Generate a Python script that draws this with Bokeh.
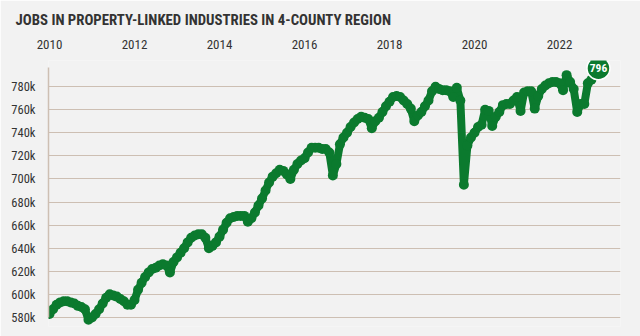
from bokeh.plotting import figure
from bokeh.models import ColumnDataSource, FixedTicker
from bokeh.core.properties import value
from bokeh.embed import file_html
from bokeh.resources import INLINE

title_text = "JOBS IN PROPERTY-LINKED INDUSTRIES IN 4-COUNTY REGION"
start_year = 2010
# monthly jobs (thousands), starting Jan 2010
jobs_k = [
    583, 587, 591, 593, 594, 594, 593, 592, 590, 589, 587, 578,
    580, 583, 587, 592, 597, 600, 599, 598, 596, 594, 591, 591,
    595, 604, 610, 615, 619, 622, 623, 625, 626, 625, 619, 628,
    632, 636, 640, 645, 649, 651, 652, 652, 649, 640, 642, 645,
    650, 656, 662, 666, 667, 668, 668, 668, 663, 666, 671, 677,
    683, 690, 697, 702, 705, 708, 707, 704, 700, 708, 713, 716,
    718, 723, 727, 727, 727, 726, 726, 723, 703, 713, 730, 736,
    740, 745, 749, 752, 754, 753, 752, 744, 750, 753, 758, 763,
    767, 771, 772, 771, 768, 765, 761, 750, 755, 758, 763, 768,
    776, 780, 778, 777, 777, 776, 771, 779, 768, 695, 729, 736,
    740, 745, 747, 760, 759, 746, 754, 758, 764, 765, 765, 768,
    771, 759, 775, 776, 776, 761, 772, 778, 781, 783, 784, 784,
    783, 777, 790, 784, 778, 758, 765, 765, 783, 786,
]
y_ticks = [580, 600, 620, 640, 660, 680, 700, 720, 740, 760, 780]
y_tick_labels = {v: f"{v}k" for v in y_ticks}
x_ticks = [2010, 2012, 2014, 2016, 2018, 2020, 2022]
end_label_value = 796
end_label_text = "796"

t = [start_year + i / 12 for i in range(len(jobs_k))]
src = ColumnDataSource(data=dict(t=t, v=jobs_k))

GREEN = "#0b7a2e"
BG = "#f2f2f2"
GRID = "#cdbfb3"
TXT = "#333333"
FONT = "Roboto Condensed, Liberation Sans Narrow, Roboto"

x_lo = 2009.976
grid_hi = 2022.965
p = figure(width=640, height=336, output_backend="svg", toolbar_location=None,
           x_axis_location="above", x_range=(x_lo, 2023.435), y_range=(572.1, 802.7),
           min_border_left=48, min_border_right=20, min_border_top=0, min_border_bottom=10)
p.background_fill_color = BG
p.border_fill_color = BG
p.outline_line_color = None

p.title.text = title_text
p.title.text_font = FONT
p.title.text_font_size = "14.8px"
p.title.text_font_style = "bold"
p.title.text_color = TXT
p.title.align = "left"
p.title.offset = -33
p.title.standoff = 16

xa = p.xaxis[0]
xa.ticker = FixedTicker(ticks=x_ticks)
xa.axis_line_color = None
xa.major_tick_line_color = None
xa.minor_tick_line_color = None
xa.major_label_text_font = FONT
xa.major_label_text_font_size = "13px"
xa.major_label_text_color = TXT
xa.major_label_standoff = 6

ya = p.yaxis[0]
ya.ticker = FixedTicker(ticks=y_ticks)
ya.major_label_overrides = y_tick_labels
ya.axis_line_color = GRID
ya.axis_line_width = 1.5
ya.bounds = (580, 797)
ya.major_tick_line_color = None
ya.minor_tick_line_color = None
ya.major_label_text_font = FONT
ya.major_label_text_font_size = "12.5px"
ya.major_label_text_color = TXT
ya.major_label_standoff = 7

p.xgrid.grid_line_color = None
p.ygrid.grid_line_color = GRID
p.ygrid.grid_line_width = 1.2
p.ygrid.bounds = (x_lo, grid_hi)

p.line("t", "v", source=src, line_color=GREEN, line_width=8, line_join="round", line_cap="round")
p.scatter("t", "v", source=src, size=10, fill_color=GREEN, line_color=None)

end_src = ColumnDataSource(data=dict(t=[t[-1] + 2 / 12], v=[end_label_value], s=[end_label_text]))
p.line(x=[t[-1], t[-1] + 2 / 12], y=[jobs_k[-1], end_label_value], line_color=GREEN, line_width=6)
p.scatter("t", "v", source=end_src, size=23, fill_color=GREEN, line_color="white", line_width=1.5)
p.text("t", "v", text="s", source=end_src, text_color="white", text_font_style="bold",
       text_font=value(FONT), text_font_size="11.5px", text_align="center", text_baseline="middle")

open("out.html", "w").write(file_html(p, INLINE))
